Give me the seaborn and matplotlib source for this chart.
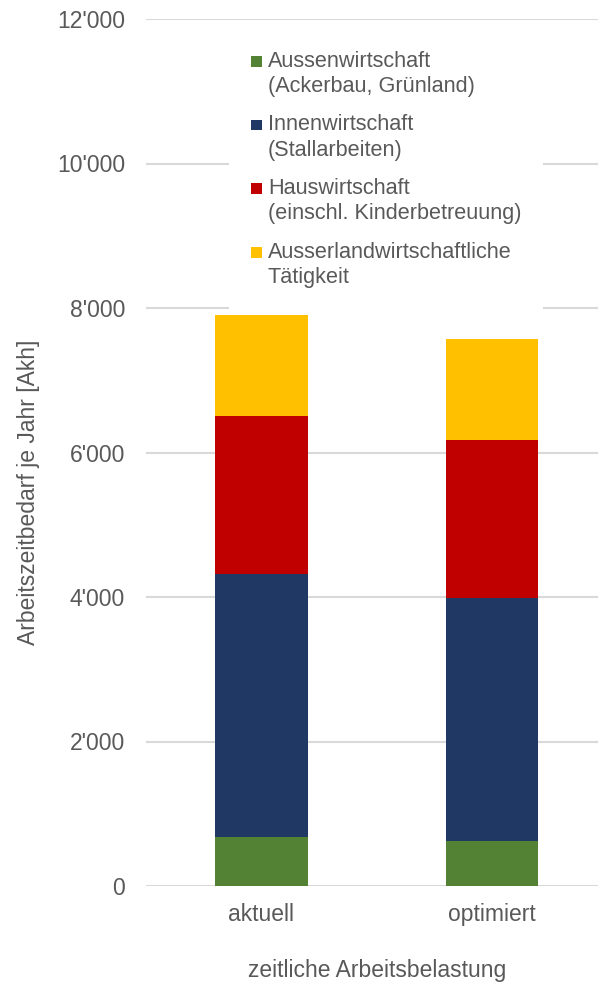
import numpy as np
import pandas as pd
import matplotlib
matplotlib.use("Agg")
import matplotlib.pyplot as plt
from matplotlib.patches import Patch, Rectangle
from matplotlib.legend_handler import HandlerPatch
from matplotlib.ticker import FuncFormatter
import seaborn as sns

sns.set_theme(style="white")
plt.rcParams['font.family'] = ['Liberation Sans', 'DejaVu Sans']

# data (Akh per year)
szenarien = ["aktuell", "optimiert"]
aussenwirtschaft = [680, 620]
innenwirtschaft = [3640, 3365]
hauswirtschaft = [2180, 2185]
ausserlandwirtschaftlich = [1400, 1400]

labels = ["Aussenwirtschaft\n(Ackerbau, Grünland)",
          "Innenwirtschaft\n(Stallarbeiten)",
          "Hauswirtschaft\n(einschl. Kinderbetreuung)",
          "Ausserlandwirtschaftliche\nTätigkeit"]
colors = ["#548235", "#203864", "#C00000", "#FFC000"]
grey = "#595959"
fs = 16.5


# legend square next to the first line of a two-line label
class FirstLineSquare(HandlerPatch):
    def create_artists(self, legend, orig_handle, xdescent, ydescent,
                       width, height, fontsize, trans):
        size = 0.5 * fontsize
        yc = -ydescent + height / 2 + 0.59 * fontsize
        r = Rectangle((-xdescent, yc - size / 2), size, size,
                      facecolor=orig_handle.get_facecolor(), edgecolor="none",
                      transform=trans)
        return [r]


df = pd.DataFrame({"szenario": szenarien,
                   "aussen": aussenwirtschaft,
                   "innen": innenwirtschaft,
                   "haus": hauswirtschaft,
                   "ausser": ausserlandwirtschaftlich})
parts = ["aussen", "innen", "haus", "ausser"]
cum = df[parts].cumsum(axis=1)
cum["szenario"] = df["szenario"]

fig = plt.figure(figsize=(5.98, 9.82), dpi=100)
ax = fig.add_axes([146 / 598, 96 / 982, 461.5 / 598, 867 / 982])

# stacked bars: draw cumulative totals from top down
for p, c in reversed(list(zip(parts, colors))):
    sns.barplot(data=cum, x="szenario", y=p, color=c, width=0.4,
                saturation=1, ax=ax, linewidth=0, zorder=3)

ax.set_ylim(0, 12000)
ax.set_xlim(-0.5, 1.5)
ax.set_yticks(np.arange(0, 12001, 2000))
ax.yaxis.set_major_formatter(FuncFormatter(lambda v, pos: f"{v:,.0f}".replace(",", "'")))
ax.grid(axis="y", color="#D9D9D9", linewidth=1.5, zorder=0)
ax.grid(axis="x", visible=False)
for s in ax.spines.values():
    s.set_visible(False)
ax.tick_params(axis="y", length=0, pad=15, labelsize=fs, labelcolor=grey)
ax.tick_params(axis="x", length=0, pad=12, labelsize=fs, labelcolor=grey)

ax.set_ylabel("Arbeitszeitbedarf je Jahr [Akh]", fontsize=fs, color=grey)
ax.yaxis.set_label_coords(-0.229, 0.454)
ax.set_xlabel("zeitliche Arbeitsbelastung", fontsize=fs, color=grey, labelpad=24)

handles = [Patch(facecolor=c, edgecolor="none") for c in colors]
leg = fig.legend(handles, labels, loc="upper left", bbox_to_anchor=(229 / 598, 1 - 29 / 982),
                 frameon=True, facecolor="white", edgecolor="none", framealpha=1,
                 fancybox=False, fontsize=15.6, labelcolor=grey, handlelength=0.5,
                 handleheight=0.5, handletextpad=0.3, labelspacing=0.8, borderpad=1.0,
                 borderaxespad=0, handler_map={Patch: FirstLineSquare()})
for t in leg.get_texts():
    t.set_linespacing(1.27)

fig.savefig("out.png", dpi=100)
